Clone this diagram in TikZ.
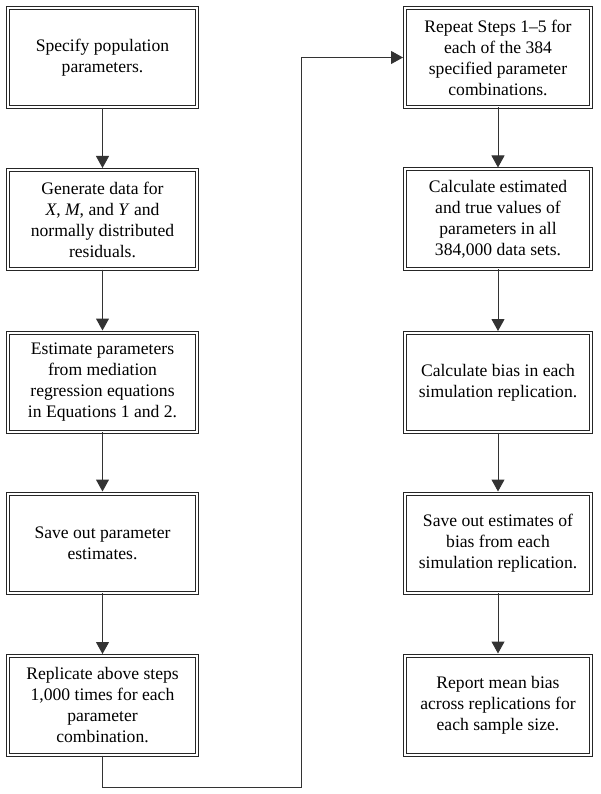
\documentclass[tikz,border=0pt]{standalone}
\usepackage{fontspec}
\setmainfont{Liberation Serif}
\usetikzlibrary{arrows.meta}

\begin{document}
\begin{tikzpicture}[x=1pt,y=-1pt,
    stepbox/.style={draw=black!85,double,double distance=2pt,line width=1pt,
      minimum width=189pt,minimum height=99pt,align=center,inner sep=2pt,
      font=\fontsize{17.6}{21}\selectfont},
    rstepbox/.style={stepbox,minimum width=186pt},
    flow/.style={draw=black!80,line width=1pt,-{Triangle[width=13pt,length=12pt]},shorten >=1.5pt}]
     \useasboundingbox (0,0) rectangle (601,794);
     \node[stepbox] (l1) at (102.5,58) {Specify population\\parameters.};
     \node[stepbox] (l2) at (102.5,219.5) {Generate data for\\\textit{X}, \textit{M}, and \textit{Y} and\\normally distributed\\residuals.};
     \node[stepbox] (l3) at (102.5,382) {Estimate parameters\\from mediation\\regression equations\\in Equations 1 and 2.};
     \node[stepbox] (l4) at (102.5,543) {Save out parameter\\estimates.};
     \node[stepbox] (l5) at (102.5,705.5) {Replicate above steps\\1,000 times for each\\parameter\\combination.};
     \node[rstepbox] (r1) at (498,57.5) {Repeat Steps 1–5 for\\each of the 384\\specified parameter\\combinations.};
     \node[rstepbox] (r2) at (498,219) {Calculate estimated\\and true values of\\parameters in all\\384,000 data sets.};
     \node[rstepbox] (r3) at (498,382.5) {Calculate bias in each\\simulation replication.};
     \node[rstepbox] (r4) at (498,543) {Save out estimates of\\bias from each\\simulation replication.};
     \node[rstepbox] (r5) at (498,705) {Report mean bias\\across replications for\\each sample size.};
     \coordinate (turn) at (301,787);
     \foreach \a/\b in {l1/l2,l2/l3,l3/l4,l4/l5,r1/r2,r2/r3,r3/r4,r4/r5}
       \draw[flow] (\a.south) -- (\b.north);
     \draw[flow] (l5.south) |- (turn) |- (r1.west);
\end{tikzpicture}
\end{document}
